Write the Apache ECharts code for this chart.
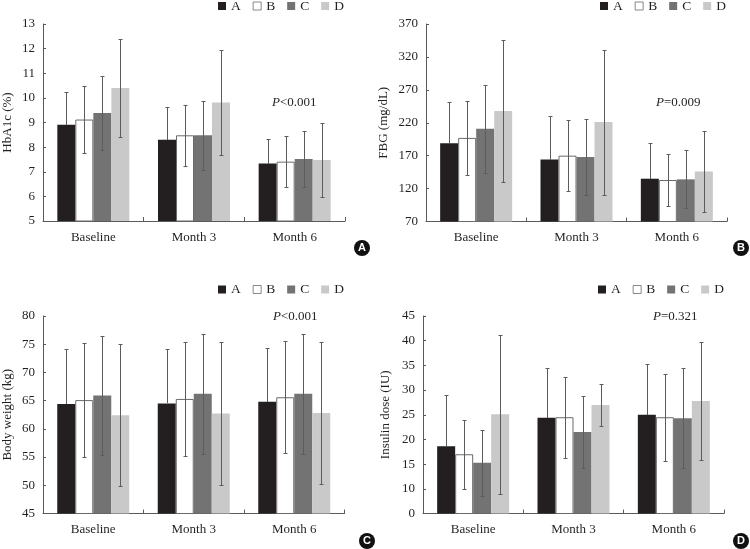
<!DOCTYPE html>
<html><head><meta charset="utf-8">
<script src="https://cdn.jsdelivr.net/npm/echarts@6/dist/echarts.min.js"></script>
<style>html,body{margin:0;padding:0;background:#fff}#c{width:750px;height:549px}</style>
</head><body><div id="c"></div>
<script>
const categories = ['Baseline', 'Month 3', 'Month 6'];
const groups = ['A', 'B', 'C', 'D'];

// HbA1c (%) mean and SD, rows = groups A..D, columns = categories
const hba1cMean = [[8.91, 8.30, 7.33], [9.12, 8.48, 7.41], [9.39, 8.48, 7.52], [10.40, 9.81, 7.48]];
const hba1cSd   = [[1.32, 1.32, 1.02], [1.35, 1.25, 1.03], [1.50, 1.40, 1.15], [2.00, 2.15, 1.50]];
const hba1cTicks = [5, 6, 7, 8, 9, 10, 11, 12, 13];

// FBG (mg/dL)
const fbgMean = [[189, 164, 135], [197, 170, 133], [211, 168, 134], [238, 221, 146]];
const fbgSd   = [[63, 66, 54], [56, 54, 40], [67, 57, 44], [108, 110, 62]];
const fbgTicks = [70, 120, 170, 220, 270, 320, 370];

// Body weight (kg)
const weightMean = [[64.4, 64.5, 64.8], [65.1, 65.3, 65.6], [65.9, 66.2, 66.2], [62.4, 62.7, 62.8]];
const weightSd   = [[9.8, 9.7, 9.5], [10.1, 10.1, 9.9], [10.6, 10.6, 10.6], [12.6, 12.7, 12.6]];
const weightTicks = [45, 50, 55, 60, 65, 70, 75, 80];

// Insulin dose (IU)
const insulinMean = [[18.6, 24.4, 25.0], [17.0, 24.5, 24.5], [15.3, 21.5, 24.3], [25.1, 27.0, 27.8]];
const insulinSd   = [[10.5, 10.1, 10.2], [7.0, 8.2, 8.8], [6.7, 7.2, 10.1], [16.1, 4.3, 12.0]];
const insulinTicks = [5, 10, 15, 20, 25, 30, 35, 40, 45];
const insulinTickLabels = ['0', '10', '15', '20', '25', '30', '35', '40', '45'];

const pValues = ['<0.001', '=0.009', '<0.001', '=0.321'];
const panelLetters = ['A', 'B', 'C', 'D'];
const yNames = ['HbA1c (%)', 'FBG (mg/dL)', 'Body weight (kg)', 'Insulin dose (IU)'];

const SERIF = '"Liberation Serif", "Times New Roman", serif';
const TXT = '#231f20';
const AXIS = '#5a5a5a';
const ERR = '#5c5c5c';
const BAR_W = 18;
const groupStyles = [
  { color: '#231f20' },
  { color: '#ffffff', borderColor: '#6a6a6a', borderWidth: 1 },
  { color: '#737373' },
  { color: '#c9c9c9' }
];

const panels = [
  { mean: hba1cMean, sd: hba1cSd, ticks: hba1cTicks, labels: null,
    grid: { left: 43, top: 24, width: 302, height: 197 }, nameGap: 29,
    legend: { left: 218, top: -1 }, p: [272, 104], letter: [362, 248] },
  { mean: fbgMean, sd: fbgSd, ticks: fbgTicks, labels: null,
    grid: { left: 426, top: 24, width: 301, height: 197.5 }, nameGap: 36,
    legend: { left: 600, top: -1 }, p: [656, 104], letter: [741, 248] },
  { mean: weightMean, sd: weightSd, ticks: weightTicks, labels: null,
    grid: { left: 43, top: 316, width: 301.5, height: 197.5 }, nameGap: 29,
    legend: { left: 218, top: 282.5 }, p: [273, 318], letter: [367, 541] },
  { mean: insulinMean, sd: insulinSd, ticks: insulinTicks, labels: insulinTickLabels,
    grid: { left: 423, top: 316, width: 301, height: 197.5 }, nameGap: 31,
    legend: { left: 598, top: 282.5 }, p: [653, 318], letter: [741, 541] }
];

function errorRender(params, api) {
  const cat = api.value(0), mean = api.value(1), sd = api.value(2), g = api.value(3);
  const top = api.coord([cat, mean + sd]);
  const mid = api.coord([cat, mean]);
  const bot = api.coord([cat, mean - sd]);
  const x = Math.round(top[0] + (g - 1.5) * BAR_W) + 0.5;
  const y1 = Math.round(top[1]) + 0.5, y2 = Math.round(bot[1]) + 0.5;
  const cap = 2;
  const st = { stroke: ERR, lineWidth: 1 };
  const children = [
    { type: 'line', shape: { x1: x - cap, y1: y1, x2: x + cap, y2: y1 }, style: st }
  ];
  if (g === 0) {
    // lower whisker hidden inside the dark bar in the original figure
    children.push({ type: 'line', shape: { x1: x, y1: y1, x2: x, y2: Math.round(mid[1]) }, style: st });
  } else {
    children.push({ type: 'line', shape: { x1: x, y1: y1, x2: x, y2: y2 }, style: st });
    children.push({ type: 'line', shape: { x1: x - cap, y1: y2, x2: x + cap, y2: y2 }, style: st });
  }
  return { type: 'group', children: children };
}

const option = {
  animation: false,
  backgroundColor: '#ffffff',
  grid: [], xAxis: [], yAxis: [], series: [], legend: [], graphic: []
};

panels.forEach((p, i) => {
  option.grid.push(Object.assign({ outerBoundsMode: 'none', containLabel: false }, p.grid));
  option.xAxis.push({
    type: 'category', gridIndex: i, data: categories,
    axisLine: { lineStyle: { color: AXIS, width: 1 } },
    axisTick: { show: true, inside: true, length: 4, lineStyle: { color: AXIS } },
    axisLabel: { color: TXT, fontFamily: SERIF, fontSize: 13, margin: 10 },
    splitLine: { show: false }
  });
  const t = p.ticks;
  option.yAxis.push({
    type: 'value', gridIndex: i, min: t[0], max: t[t.length - 1], interval: t[1] - t[0],
    name: yNames[i], nameLocation: 'middle', nameGap: p.nameGap, nameRotate: 90,
    nameTextStyle: { color: TXT, fontFamily: SERIF, fontSize: 13 },
    axisLine: { show: true, lineStyle: { color: AXIS, width: 1 } },
    axisTick: { show: true, inside: true, length: 3, lineStyle: { color: AXIS } },
    axisLabel: { color: TXT, fontFamily: SERIF, fontSize: 13, margin: 8,
      formatter: p.labels ? (v) => { const k = t.indexOf(v); return k >= 0 ? p.labels[k] : ''; } : (v) => String(v) },
    splitLine: { show: false }
  });
  groups.forEach((g, k) => {
    option.series.push({
      type: 'bar', name: g, xAxisIndex: i, yAxisIndex: i,
      data: p.mean[k], barWidth: BAR_W, barGap: '0%',
      itemStyle: groupStyles[k], clip: true, z: 2
    });
  });
  const errData = [];
  groups.forEach((g, k) => {
    categories.forEach((c, j) => errData.push([j, p.mean[k][j], p.sd[k][j], k]));
  });
  option.series.push({
    type: 'custom', xAxisIndex: i, yAxisIndex: i, renderItem: errorRender,
    data: errData, encode: { x: 0, y: 1 }, z: 5, silent: true
  });
  option.legend.push({
    data: groups, left: p.legend.left, top: p.legend.top, padding: 0,
    itemWidth: 8, itemHeight: 8, itemGap: 12, icon: 'rect', selectedMode: false,
    itemStyle: { borderWidth: 0.8 },
    textStyle: { color: TXT, fontFamily: SERIF, fontSize: 13.5 }
  });
  option.graphic.push({
    type: 'text', left: p.p[0], top: p.p[1] - 8,
    style: {
      text: '{i|P}{n|' + pValues[i] + '}',
      rich: {
        i: { fontFamily: SERIF, fontStyle: 'italic', fontSize: 13, fill: TXT },
        n: { fontFamily: SERIF, fontSize: 13, fill: TXT }
      }
    }
  });
  option.graphic.push({
    type: 'circle', shape: { cx: p.letter[0], cy: p.letter[1], r: 8 },
    style: { fill: '#111111' }
  });
  option.graphic.push({
    type: 'text', x: p.letter[0], y: p.letter[1],
    style: { text: panelLetters[i], fill: '#ffffff', font: 'bold 11px "Liberation Sans", Arial, sans-serif',
      align: 'center', verticalAlign: 'middle' }
  });
});

const chart = echarts.init(document.getElementById('c'), null, { renderer: 'canvas' });
chart.setOption(option);
</script></body></html>
